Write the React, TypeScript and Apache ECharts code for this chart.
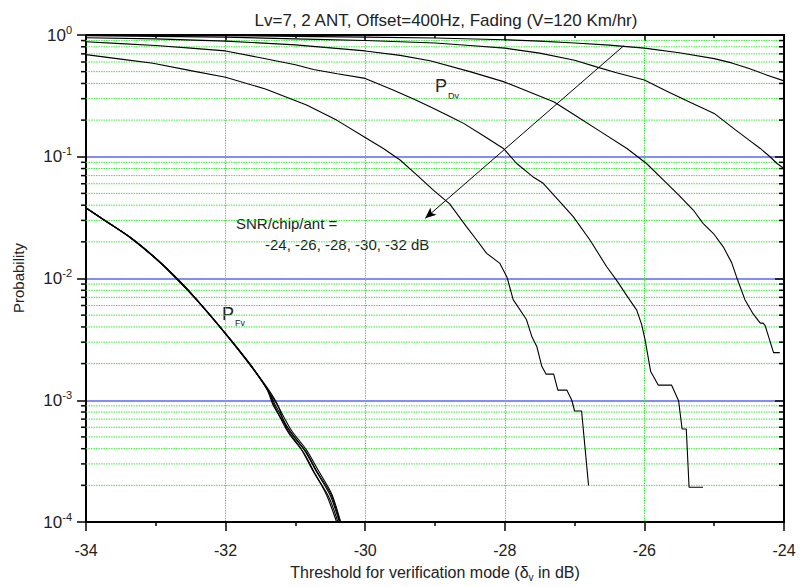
import React, { useEffect, useRef } from 'react';
import * as echarts from 'echarts';

const X_MIN = -34;
const X_MAX = -24;
const X_INTERVAL = 2;
const Y_MIN = 1e-4;
const Y_MAX = 1;

const TITLE = 'Lv=7, 2 ANT, Offset=400Hz, Fading (V=120 Km/hr)';
const Y_NAME = 'Probability';
const SNR_TEXT_1 = 'SNR/chip/ant =';
const SNR_TEXT_2 = '-24, -26, -28, -30, -32 dB';

// minor (2..9 x decade) grid values
const MINOR_GRID = [
  2e-4, 3e-4, 4e-4, 5e-4, 6e-4, 7e-4, 8e-4, 9e-4,
  2e-3, 3e-3, 4e-3, 5e-3, 6e-3, 7e-3, 8e-3, 9e-3,
  2e-2, 3e-2, 4e-2, 5e-2, 6e-2, 7e-2, 8e-2, 9e-2,
  2e-1, 3e-1, 4e-1, 5e-1, 6e-1, 7e-1, 8e-1, 9e-1,
];

// P_Dv curves (detection probability), SNR/chip/ant = -24 ... -32 dB
const PD_SNR_24 = [
  [-34, 0.995], [-33, 0.992], [-32, 0.985], [-31, 0.975], [-30, 0.96], [-29, 0.945],
  [-28, 0.915], [-27.5, 0.89], [-27, 0.86], [-26.5, 0.825], [-26, 0.78], [-25.5, 0.715],
  [-25, 0.64], [-24.75, 0.59], [-24.5, 0.53], [-24.25, 0.47], [-24, 0.42],
];
const PD_SNR_26 = [
  [-34, 0.985], [-33, 0.975], [-32, 0.96], [-31, 0.93], [-30, 0.9], [-29.5, 0.88],
  [-29, 0.86], [-28.5, 0.82], [-28, 0.78], [-27.5, 0.71], [-27, 0.62], [-26.7, 0.55],
  [-26.4, 0.49], [-26, 0.427], [-25.7, 0.35], [-25.4, 0.29], [-25, 0.227], [-24.7, 0.167],
  [-24.5, 0.137], [-24.34, 0.117], [-24.2, 0.1], [-24.1, 0.088], [-24, 0.08],
];
const PD_SNR_28 = [
  [-34, 0.95], [-33, 0.93], [-32, 0.89], [-31, 0.83], [-30, 0.74], [-29.5, 0.68],
  [-29.07, 0.615], [-28.5, 0.5], [-28.02, 0.414], [-27.7, 0.35], [-27.3, 0.283], [-27, 0.22],
  [-26.6, 0.157], [-26.25, 0.117], [-25.97, 0.088], [-25.73, 0.0645], [-25.5, 0.048],
  [-25.3, 0.0365], [-25.16, 0.0284], [-25, 0.023], [-24.87, 0.0182], [-24.75, 0.0135],
  [-24.68, 0.0103], [-24.56, 0.0067], [-24.45, 0.0052], [-24.34, 0.0043], [-24.3, 0.0043],
  [-24.27, 0.0041], [-24.15, 0.00246], [-24.06, 0.00246],
];
const PD_SNR_30 = [
  [-34, 0.88], [-33.5, 0.85], [-33, 0.82], [-32.5, 0.78], [-32, 0.74], [-31.5, 0.65],
  [-31, 0.57], [-30.74, 0.52], [-30.4, 0.48], [-30, 0.44], [-29.6, 0.353], [-29.3, 0.296],
  [-29.07, 0.258], [-28.8, 0.216], [-28.59, 0.188], [-28.3, 0.148], [-28.02, 0.117],
  [-27.83, 0.088], [-27.6, 0.0686], [-27.45, 0.0605], [-27.2, 0.042], [-27.02, 0.0322],
  [-26.78, 0.0207], [-26.54, 0.0125], [-26.4, 0.0097], [-26.25, 0.0072], [-26.11, 0.0055],
  [-26.04, 0.0042], [-25.99, 0.00313], [-25.91, 0.00172], [-25.8, 0.00133], [-25.61, 0.00133],
  [-25.51, 0.00099], [-25.46, 0.00058], [-25.4, 0.00058], [-25.36, 0.000193], [-25.16, 0.000193],
];
const PD_SNR_32 = [
  [-34, 0.69], [-33.5, 0.634], [-33.04, 0.586], [-32.5, 0.51], [-32, 0.45], [-31.43, 0.36],
  [-30.84, 0.266], [-30.41, 0.2], [-30, 0.144], [-29.74, 0.117], [-29.5, 0.094], [-29.25, 0.07],
  [-29.02, 0.053], [-28.79, 0.041], [-28.55, 0.0267], [-28.4, 0.0206], [-28.26, 0.0161],
  [-28.07, 0.0133], [-27.97, 0.0103], [-27.88, 0.0067], [-27.69, 0.0046], [-27.61, 0.0033],
  [-27.54, 0.00275], [-27.47, 0.0019], [-27.41, 0.00164], [-27.3, 0.00164], [-27.24, 0.00121],
  [-27.11, 0.00121], [-27.04, 0.001], [-27.0, 0.000816], [-26.9, 0.000816], [-26.8, 0.0002],
];

// P_Fv curves (false alarm probability), same five SNRs
const PF_SNR_24 = [
  [-34, 0.038], [-33.7, 0.0292], [-33.37, 0.0218], [-33.0, 0.0146], [-32.7, 0.01], [-32.41, 0.00665],
  [-32.01, 0.00358], [-31.65, 0.00197], [-31.41, 0.00125], [-31.29, 0.00092], [-31.08, 0.00056],
  [-30.86, 0.00038], [-30.7, 0.00026], [-30.5, 0.000165], [-30.37, 0.0001], [-30.3, 0.000075],
];
const PF_SNR_26 = [
  [-34, 0.0381], [-33.7, 0.0293], [-33.37, 0.0219], [-33.0, 0.0147], [-32.7, 0.0101], [-32.41, 0.00668],
  [-32.01, 0.0036], [-31.65, 0.00199], [-31.42, 0.00127], [-31.27, 0.00094], [-31.06, 0.00057],
  [-30.84, 0.00039], [-30.68, 0.00027], [-30.48, 0.00017], [-30.35, 0.0001], [-30.28, 0.000075],
];
const PF_SNR_28 = [
  [-34, 0.0379], [-33.7, 0.0291], [-33.37, 0.0217], [-33.0, 0.0145], [-32.7, 0.0099], [-32.41, 0.00662],
  [-32.01, 0.00356], [-31.65, 0.00195], [-31.4, 0.00123], [-31.3, 0.0009], [-31.1, 0.00054],
  [-30.88, 0.00037], [-30.72, 0.00025], [-30.52, 0.00016], [-30.39, 0.0001], [-30.32, 0.000075],
];
const PF_SNR_30 = [
  [-34, 0.038], [-33.7, 0.0292], [-33.37, 0.0218], [-33.0, 0.0146], [-32.7, 0.01], [-32.41, 0.00666],
  [-32.01, 0.00357], [-31.65, 0.00196], [-31.4, 0.00126], [-31.26, 0.00093], [-31.12, 0.00058],
  [-30.92, 0.0004], [-30.76, 0.00027], [-30.56, 0.00017], [-30.41, 0.0001], [-30.34, 0.000075],
];
const PF_SNR_32 = [
  [-34, 0.0379], [-33.7, 0.0291], [-33.37, 0.0218], [-33.0, 0.0146], [-32.7, 0.01], [-32.41, 0.00664],
  [-32.01, 0.00357], [-31.65, 0.00196], [-31.41, 0.00124], [-31.31, 0.00089], [-31.07, 0.00055],
  [-30.85, 0.00038], [-30.69, 0.00026], [-30.49, 0.000168], [-30.36, 0.0001], [-30.29, 0.000075],
];

// arrow annotation (data coords)
const ARROW_FROM = [-26.3, 0.812];
const ARROW_TO = [-29.14, 0.0312];

const FONT = '"Liberation Sans", Arial, sans-serif';
const TXT = '#222';
const GREEN = '#3ae83a';
const BLUE = '#5a68ee';

export default function App() {
  const ref = useRef<HTMLDivElement>(null);
  useEffect(() => {
    document.body.style.margin = '0';
    if (!ref.current) return;
    const chart = echarts.init(ref.current, null, { renderer: 'svg' });

    const pdSets = [PD_SNR_24, PD_SNR_26, PD_SNR_28, PD_SNR_30, PD_SNR_32];
    const pfSets = [PF_SNR_24, PF_SNR_26, PF_SNR_28, PF_SNR_30, PF_SNR_32];
    const snr = ['-24', '-26', '-28', '-30', '-32'];

    const lineSeries: any[] = [];
    pdSets.forEach((d, i) => {
      lineSeries.push({
        name: 'PD ' + snr[i],
        type: 'line',
        data: d,
        showSymbol: false,
        symbol: 'none',
        lineStyle: { color: '#000', width: 1.1 },
        z: 5,
        ...(i === 0
          ? {
              markLine: {
                silent: true,
                animation: false,
                symbol: ['none', 'arrow'],
                symbolSize: [7, 11],
                label: { show: false },
                lineStyle: { color: '#000', width: 1, type: 'solid' },
                data: [[{ coord: ARROW_FROM }, { coord: ARROW_TO }]],
              },
            }
          : {}),
      });
    });
    pfSets.forEach((d, i) => {
      lineSeries.push({
        name: 'PF ' + snr[i],
        type: 'line',
        data: d,
        showSymbol: false,
        symbol: 'none',
        smooth: 0.3,
        lineStyle: { color: '#000', width: 1.1 },
        z: 5,
      });
    });

    const option: any = {
      animation: false,
      backgroundColor: '#fff',
      grid: { left: 86, right: 16, top: 35, bottom: 65, containLabel: false },
      xAxis: [
        {
          type: 'value',
          min: X_MIN,
          max: X_MAX,
          interval: X_INTERVAL,
          position: 'bottom',
          axisLine: { onZero: false, lineStyle: { color: '#000', width: 2 } },
          axisTick: { inside: false, length: 9, lineStyle: { color: '#000', width: 1.5 } },
          minorTick: { show: true, splitNumber: 2, length: 4, lineStyle: { color: '#000', width: 1.5 } },
          axisLabel: { fontFamily: FONT, fontSize: 16, color: TXT, margin: 20 },
          splitLine: { show: true, lineStyle: { color: GREEN, width: 1, type: [1.5, 1] } },
        },
        {
          type: 'value',
          min: X_MIN,
          max: X_MAX,
          interval: X_INTERVAL,
          position: 'top',
          axisLine: { onZero: false, lineStyle: { color: '#000', width: 2 } },
          axisTick: { inside: true, length: 6, lineStyle: { color: '#000', width: 1.5 } },
          minorTick: { show: true, splitNumber: 2, length: 3, lineStyle: { color: '#000', width: 1.5 } },
          axisLabel: { show: false },
          splitLine: { show: false },
        },
      ],
      yAxis: [
        {
          type: 'log',
          logBase: 10,
          min: Y_MIN,
          max: Y_MAX,
          splitNumber: 4,
          position: 'left',
          axisLine: { onZero: false, lineStyle: { color: '#000', width: 2 } },
          axisTick: { inside: false, length: 9, lineStyle: { color: '#000', width: 1.5 } },
          axisLabel: {
            margin: 14,
            formatter: (v: number) => {
              const e = Math.round(Math.log10(v));
              return '{b|10}{s|' + e + '}';
            },
            rich: {
              b: { fontFamily: FONT, fontSize: 17, color: TXT, lineHeight: 22 },
              s: { fontFamily: FONT, fontSize: 11, color: TXT, lineHeight: 12, verticalAlign: 'top' },
            },
          },
          splitLine: { show: true, lineStyle: { color: BLUE, width: 1.5, type: 'solid' } },
        },
        {
          type: 'log',
          logBase: 10,
          min: Y_MIN,
          max: Y_MAX,
          splitNumber: 4,
          position: 'right',
          axisLine: { onZero: false, lineStyle: { color: '#000', width: 2 } },
          axisTick: { inside: true, length: 9, lineStyle: { color: '#000', width: 1.5 } },
          axisLabel: { show: false },
          splitLine: { show: false },
        },
      ],
      series: [
        {
          name: 'minor grid',
          type: 'custom',
          silent: true,
          z: 1,
          clip: false,
          data: MINOR_GRID.map((v) => [X_MIN, v]),
          renderItem: (params: any, api: any) => {
            const v = api.value(1);
            const p0 = api.coord([X_MIN, v]);
            const p1 = api.coord([X_MAX, v]);
            return {
              type: 'group',
              children: [
                {
                  type: 'line',
                  shape: { x1: p0[0], y1: p0[1], x2: p1[0], y2: p1[1] },
                  style: { stroke: GREEN, lineWidth: 1, lineDash: [1.5, 1] },
                },
                {
                  type: 'line',
                  shape: { x1: p0[0] - 5, y1: p0[1], x2: p0[0], y2: p0[1] },
                  style: { stroke: '#000', lineWidth: 1.5 },
                },
                {
                  type: 'line',
                  shape: { x1: p1[0] - 5, y1: p1[1], x2: p1[0], y2: p1[1] },
                  style: { stroke: '#000', lineWidth: 1.5 },
                },
              ],
            };
          },
        },
        ...lineSeries,
      ],
      graphic: [
        {
          type: 'text',
          x: 446,
          y: 20,
          style: { text: TITLE, fontFamily: FONT, fontSize: 17, fill: TXT, align: 'center', verticalAlign: 'middle', textAlign: 'center', textVerticalAlign: 'middle' },
        },
        {
          type: 'text',
          x: 435,
          y: 572,
          style: {
            text: '{a|Threshold for verification mode (δ}{s|v}{a| in dB)}',
            rich: {
              a: { fontFamily: FONT, fontSize: 16, fill: TXT, color: TXT, lineHeight: 20 },
              s: { fontFamily: FONT, fontSize: 10, fill: TXT, color: TXT, lineHeight: 12, verticalAlign: 'bottom' },
            },
            align: 'center',
            verticalAlign: 'middle',
            textAlign: 'center',
            textVerticalAlign: 'middle',
          },
        },
        {
          type: 'text',
          x: 18,
          y: 278,
          rotation: Math.PI / 2,
          style: { text: Y_NAME, fontFamily: FONT, fontSize: 15, fill: TXT, align: 'center', verticalAlign: 'middle', textAlign: 'center', textVerticalAlign: 'middle' },
        },
        {
          type: 'text',
          x: 236,
          y: 223,
          style: { text: SNR_TEXT_1, fontFamily: FONT, fontSize: 15, fill: TXT, align: 'left', verticalAlign: 'middle', textAlign: 'left', textVerticalAlign: 'middle' },
        },
        {
          type: 'text',
          x: 265,
          y: 244,
          style: { text: SNR_TEXT_2, fontFamily: FONT, fontSize: 15, fill: TXT, align: 'left', verticalAlign: 'middle', textAlign: 'left', textVerticalAlign: 'middle' },
        },
        {
          type: 'text',
          x: 435,
          y: 86,
          style: { text: 'P', fontFamily: FONT, fontSize: 18, fill: TXT, align: 'left', verticalAlign: 'middle', textAlign: 'left', textVerticalAlign: 'middle' },
        },
        {
          type: 'text',
          x: 448,
          y: 96,
          style: { text: 'Dv', fontFamily: FONT, fontSize: 9, fill: TXT, align: 'left', verticalAlign: 'middle', textAlign: 'left', textVerticalAlign: 'middle' },
        },
        {
          type: 'text',
          x: 222,
          y: 314,
          style: { text: 'P', fontFamily: FONT, fontSize: 18, fill: TXT, align: 'left', verticalAlign: 'middle', textAlign: 'left', textVerticalAlign: 'middle' },
        },
        {
          type: 'text',
          x: 235,
          y: 323,
          style: { text: 'Fv', fontFamily: FONT, fontSize: 9, fill: TXT, align: 'left', verticalAlign: 'middle', textAlign: 'left', textVerticalAlign: 'middle' },
        },
      ],
    };
    chart.setOption(option);
    return () => chart.dispose();
  }, []);
  return <div ref={ref} style={{ width: 800, height: 587 }} />;
}
